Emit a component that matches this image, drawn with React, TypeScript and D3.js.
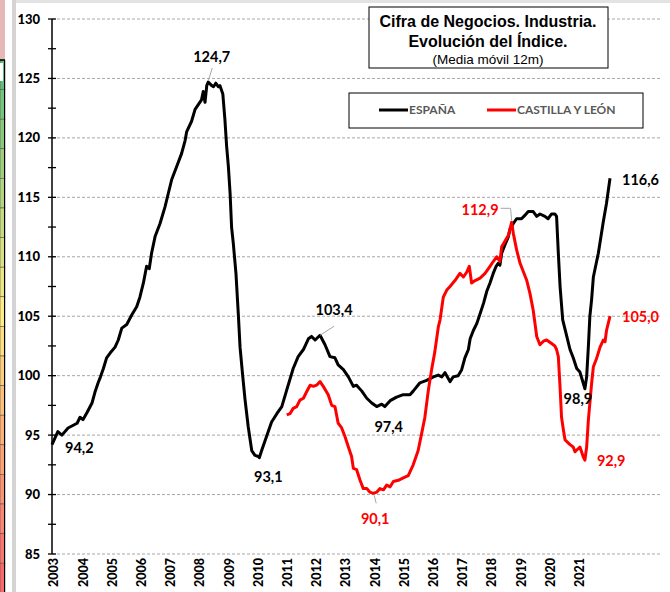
import React, { useEffect, useRef } from 'react';
import * as d3 from 'd3';

// España, media móvil 12m (año decimal, índice)
const espanaT = [
  2003.0, 2003.2, 2003.34, 2003.55, 2003.86, 2003.96, 2004.06, 2004.2, 2004.37, 2004.47, 2004.58, 2004.66,
  2004.76, 2004.87, 2004.99, 2005.16, 2005.27, 2005.39, 2005.56, 2005.73, 2005.9, 2006.01, 2006.13, 2006.24,
  2006.33, 2006.41, 2006.53, 2006.7, 2006.87, 2006.98, 2007.1, 2007.27, 2007.44, 2007.56, 2007.61, 2007.78,
  2007.9, 2008.01, 2008.12, 2008.18, 2008.24, 2008.3, 2008.35, 2008.47, 2008.53, 2008.61, 2008.7, 2008.75,
  2008.85, 2008.92, 2008.98, 2009.04, 2009.1, 2009.15, 2009.21, 2009.3, 2009.38, 2009.44, 2009.53, 2009.61,
  2009.72, 2009.84, 2009.95, 2010.07, 2010.1, 2010.18, 2010.35, 2010.52, 2010.7, 2010.87, 2011.04, 2011.26,
  2011.43, 2011.61, 2011.78, 2011.89, 2012.01, 2012.18, 2012.35, 2012.52, 2012.69, 2012.8, 2012.98, 2013.15,
  2013.32, 2013.43, 2013.61, 2013.78, 2013.95, 2014.12, 2014.29, 2014.4, 2014.58, 2014.8, 2015.03, 2015.26,
  2015.37, 2015.6, 2015.83, 2016.06, 2016.23, 2016.35, 2016.46, 2016.63, 2016.74, 2016.91, 2017.03, 2017.14,
  2017.26, 2017.32, 2017.43, 2017.55, 2017.66, 2017.78, 2017.89, 2018.0, 2018.11, 2018.21, 2018.28, 2018.34,
  2018.4, 2018.51, 2018.63, 2018.68, 2018.8, 2018.91, 2019.08, 2019.2, 2019.31, 2019.48, 2019.6, 2019.71,
  2019.88, 2019.99, 2020.11, 2020.22, 2020.28, 2020.34, 2020.4, 2020.49, 2020.63, 2020.74, 2020.85, 2020.97,
  2021.08, 2021.19, 2021.25, 2021.31, 2021.37, 2021.42, 2021.48, 2021.54, 2021.71, 2021.88, 2021.99, 2022.11
];
const espanaV = [
  94.2, 95.3, 95.0, 95.6, 96.0, 96.5, 96.3, 96.9, 97.7, 98.6, 99.4, 99.9,
  100.6, 101.5, 101.9, 102.4, 103.0, 104.0, 104.3, 105.1, 105.8, 106.6, 107.8, 109.2,
  109.0, 110.3, 111.7, 112.8, 114.2, 115.3, 116.5, 117.6, 118.7, 119.8, 120.5, 121.4,
  122.4, 122.8, 123.2, 123.9, 123.0, 124.4, 124.7, 124.4, 124.3, 124.6, 124.3, 124.4,
  123.7, 121.6, 119.3, 117.6, 115.3, 112.5, 111.1, 108.6, 105.2, 102.4, 100.0, 98.0,
  95.7, 93.7, 93.3, 93.2, 93.1, 93.7, 94.9, 96.1, 96.8, 97.4, 98.8, 100.6,
  101.6, 102.2, 103.1, 103.3, 103.0, 103.4, 102.6, 101.6, 101.5, 100.9, 100.5, 99.9,
  99.1, 99.2, 98.7, 98.1, 97.7, 97.4, 97.6, 97.4, 97.9, 98.2, 98.4, 98.4,
  98.7, 99.4, 99.6, 99.9, 100.05, 99.9, 100.25, 99.5, 99.9, 100.0, 100.5, 101.5,
  102.2, 103.1, 103.8, 104.4, 105.2, 106.1, 107.1, 107.8, 108.6, 109.2, 109.45, 109.3,
  110.3, 111.0, 111.7, 112.3, 112.8, 113.2, 113.2, 113.5, 113.8, 113.8, 113.4, 113.6,
  113.4, 113.2, 113.6, 113.6, 113.4, 110.3, 107.5, 104.7, 103.3, 102.2, 101.5, 100.6,
  100.3, 99.4, 98.9, 99.9, 102.5, 105.0, 106.4, 108.3, 110.3, 112.95, 114.5, 116.6
];

// Castilla y León, media móvil 12m
const cylT = [
  2011.04, 2011.15, 2011.26, 2011.38, 2011.49, 2011.61, 2011.72, 2011.84, 2011.95, 2012.06, 2012.18, 2012.29,
  2012.46, 2012.58, 2012.69, 2012.8, 2012.92, 2013.03, 2013.15, 2013.26, 2013.32, 2013.43, 2013.55, 2013.66,
  2013.78, 2013.89, 2014.0, 2014.12, 2014.23, 2014.35, 2014.46, 2014.58, 2014.69, 2014.86, 2015.03, 2015.2,
  2015.37, 2015.54, 2015.66, 2015.77, 2015.89, 2016.0, 2016.11, 2016.23, 2016.29, 2016.4, 2016.52, 2016.63,
  2016.8, 2016.97, 2017.09, 2017.2, 2017.29, 2017.37, 2017.49, 2017.66, 2017.83, 2018.0, 2018.11, 2018.23,
  2018.34, 2018.4, 2018.51, 2018.63, 2018.74, 2018.8, 2018.91, 2019.03, 2019.26, 2019.37, 2019.48, 2019.6,
  2019.71, 2019.83, 2019.94, 2020.11, 2020.22, 2020.28, 2020.34, 2020.4, 2020.45, 2020.51, 2020.57, 2020.74,
  2020.85, 2020.91, 2021.08, 2021.19, 2021.25, 2021.31, 2021.37, 2021.48, 2021.54, 2021.65, 2021.77, 2021.88,
  2021.94, 2021.99, 2022.11
];
const cylV = [
  96.7, 96.8, 97.25, 97.4, 97.95, 98.1, 98.65, 99.2, 99.1, 99.2, 99.5, 99.1,
  98.4, 97.5, 97.4, 96.0, 95.6, 94.9, 94.0, 93.2, 92.2, 92.1, 91.2, 90.5,
  90.5, 90.2, 90.1, 90.2, 90.5, 90.4, 90.8, 90.65, 91.1, 91.2, 91.4, 91.6,
  92.5, 93.7, 95.15, 96.5, 98.8, 100.5, 102.0, 104.1, 104.7, 106.6, 107.2, 107.5,
  108.0, 108.6, 108.3, 108.7, 109.2, 107.8, 108.0, 108.2, 108.6, 109.2, 109.6, 110.0,
  109.6, 110.85, 111.3, 111.8, 112.9, 111.95, 110.6, 109.45, 108.0, 106.9, 105.5, 103.3,
  102.6, 102.9, 103.0, 102.7, 102.5, 102.2, 101.6, 99.0, 96.5, 95.5, 94.6, 94.2,
  94.0, 93.6, 94.0, 93.2, 92.9, 94.0, 96.3, 99.35, 100.75, 101.45, 102.4, 103.0,
  102.85, 103.8, 105.0
];

const yearLabels = d3.range(2003, 2022);
const yTicks = d3.range(85, 131, 5);
const yMinor = d3.range(87.5, 130, 5);

// etiquetas de valores
const labelText = ['94,2', '124,7', '93,1', '103,4', '97,4', '90,1', '112,9', '116,6', '105,0', '98,9', '92,9'];
const labelSeries = ['es', 'es', 'es', 'es', 'es', 'cyl', 'cyl', 'es', 'cyl', 'es', 'cyl'];
const labelT = [2003.0, 2008.35, 2010.1, 2012.18, 2014.12, 2014.0, 2018.74, 2022.11, 2022.11, 2021.25, 2021.25];
const labelV = [94.2, 124.7, 93.1, 103.4, 97.4, 90.1, 112.9, 116.6, 105.0, 98.9, 92.9];

const App = () => {
  const ref = useRef<SVGSVGElement>(null);

  useEffect(() => {
    const svg = d3.select(ref.current);
    svg.selectAll('*').remove();

    const W = 670;
    const H = 592;
    const x = d3.scaleLinear().domain([2003, 2003 + 610 / 29.2]).range([52, 662]);
    const y = d3.scaleLinear().domain([85, 130]).range([554, 19]);
    const numFont = 'Lato, "Open Sans", sans-serif';

    // marco de hoja de cálculo a la izquierda
    svg.append('rect').attr('width', W).attr('height', H).attr('fill', '#ffffff');
    svg.append('rect').attr('x', 0).attr('y', 0).attr('width', 5).attr('height', 60).attr('fill', '#e6b8b7');
    const cellColor = d3.scaleLinear<string>().domain([0, 8, 17]).range(['#63be7b', '#ffeb84', '#f8696b']);
    d3.range(18).forEach(i => {
      const cy = 60 + i * 29.6;
      svg.append('rect').attr('x', 0).attr('y', cy).attr('width', 5).attr('height', 29.6)
        .attr('fill', cellColor(i)).attr('stroke', '#555').attr('stroke-width', 0.6);
    });
    svg.append('rect').attr('x', 0).attr('y', 63).attr('width', 3).attr('height', 18).attr('fill', '#fff');
    svg.append('line').attr('x1', 0).attr('x2', 5).attr('y1', 60).attr('y2', 60).attr('stroke', '#000').attr('stroke-width', 1.5);
    svg.append('line').attr('x1', 4.5).attr('x2', 4.5).attr('y1', 60).attr('y2', H).attr('stroke', '#000').attr('stroke-width', 1);
    svg.append('rect').attr('x', 12).attr('y', 0).attr('width', W - 12).attr('height', 3).attr('fill', '#e3e3e3');
    svg.append('rect').attr('x', 12).attr('y', 0).attr('width', 4).attr('height', H).attr('fill', '#d4d4d4');

    // rejilla
    svg.append('g').selectAll('line').data(yTicks).join('line')
      .attr('x1', 52).attr('x2', 662)
      .attr('y1', d => y(d)).attr('y2', d => y(d))
      .attr('stroke', '#a6a6a6').attr('stroke-width', 1).attr('stroke-dasharray', '3,2');

    // eje Y
    svg.append('line').attr('x1', 52).attr('x2', 52).attr('y1', y(130)).attr('y2', y(85))
      .attr('stroke', '#000').attr('stroke-width', 1.5);
    svg.append('g').selectAll('line').data([...yTicks, ...yMinor]).join('line')
      .attr('x1', 48).attr('x2', 56)
      .attr('y1', d => y(d)).attr('y2', d => y(d))
      .attr('stroke', '#000').attr('stroke-width', 1.3);
    svg.append('g').selectAll('text').data(yTicks).join('text')
      .attr('x', 40).attr('y', d => y(d)).attr('dy', '0.35em')
      .attr('text-anchor', 'end')
      .style('font-family', numFont).style('font-weight', 900).style('font-size', '13px')
      .text(d => d);

    // eje X (años)
    svg.append('g').selectAll('text').data(yearLabels).join('text')
      .attr('transform', d => `translate(${x(d) + 2},558) rotate(-90)`)
      .attr('dy', '0.35em')
      .attr('text-anchor', 'end')
      .style('font-family', numFont).style('font-weight', 900).style('font-size', '12.5px')
      .text(d => d);

    // líneas
    const line = d3.line<[number, number]>()
      .x(d => x(d[0]))
      .y(d => y(d[1]));
    const espana = espanaT.map((t, i) => [t, espanaV[i]] as [number, number]);
    const cyl = cylT.map((t, i) => [t, cylV[i]] as [number, number]);

    svg.append('path').datum(espana)
      .attr('fill', 'none').attr('stroke', '#000000').attr('stroke-width', 3)
      .attr('stroke-linejoin', 'round').attr('d', line);
    svg.append('path').datum(cyl)
      .attr('fill', 'none').attr('stroke', '#ff0000').attr('stroke-width', 3)
      .attr('stroke-linejoin', 'round').attr('d', line);

    // guías de etiquetas
    const lead = (pts: [number, number][]) =>
      svg.append('path').attr('d', d3.line()(pts)).attr('fill', 'none')
        .attr('stroke', '#a6a6a6').attr('stroke-width', 1);
    lead([[x(2008.35), y(124.7) - 1], [x(2008.35) + 4, y(124.7) - 14]]);
    lead([[x(2012.18), y(103.4)], [x(2012.18) + 14, y(103.4) - 9]]);
    lead([[x(2014.0) + 1, y(90.1) + 2], [x(2014.0) + 3, y(90.1) + 10]]);
    lead([[x(2018.74), y(112.9) - 2], [x(2018.74) - 1, y(112.9) - 14], [x(2018.74) - 11, y(112.9) - 14]]);

    // etiquetas de valores
    const offsets: [number, number, string][] = [
      [13, 8, 'start'], [3.5, -20, 'middle'], [9, 24, 'middle'], [14, -20, 'middle'],
      [12, 25, 'middle'], [2, 31, 'middle'], [-13, -7, 'end'], [12, 7, 'start'],
      [12, 5.5, 'start'], [-7, 15, 'middle'], [12, 6, 'start']
    ];
    labelText.forEach((txt, i) => {
      const [dx, dy, anchor] = offsets[i];
      svg.append('text')
        .attr('x', x(labelT[i]) + dx).attr('y', y(labelV[i]) + dy)
        .attr('text-anchor', anchor)
        .attr('fill', labelSeries[i] === 'cyl' ? '#ff0000' : '#000000')
        .style('font-family', numFont).style('font-weight', 700).style('font-size', '14.5px')
        .text(txt);
    });

    // título
    svg.append('rect').attr('x', 369).attr('y', 7).attr('width', 239).attr('height', 61)
      .attr('fill', '#fff').attr('stroke', '#000').attr('stroke-width', 1);
    const title = svg.append('g').style('font-family', '"Liberation Sans", Arial, sans-serif')
      .attr('text-anchor', 'middle');
    title.append('text').attr('x', 488).attr('y', 27)
      .style('font-weight', 700).style('font-size', '16px').text('Cifra de Negocios. Industria.');
    title.append('text').attr('x', 488).attr('y', 46.5)
      .style('font-weight', 700).style('font-size', '16px').text('Evolución del Índice.');
    title.append('text').attr('x', 488).attr('y', 64)
      .style('font-size', '13.5px').text('(Media móvil 12m)');

    // leyenda
    svg.append('rect').attr('x', 349).attr('y', 93).attr('width', 294).attr('height', 35)
      .attr('fill', '#fff').attr('stroke', '#000').attr('stroke-width', 1);
    const legendItems: [string, string, number][] = [
      ['ESPAÑA', '#000000', 379],
      ['CASTILLA Y LEÓN', '#ff0000', 487]
    ];
    legendItems.forEach(([name, color, lx]) => {
      svg.append('line').attr('x1', lx).attr('x2', lx + 29).attr('y1', 110).attr('y2', 110)
        .attr('stroke', color).attr('stroke-width', 3);
      svg.append('text').attr('x', lx + 30).attr('y', 114)
        .attr('fill', '#595959')
        .style('font-family', numFont).style('font-weight', 700).style('font-size', '12px')
        .text(name);
    });
  }, []);

  return (
    <div style={{ position: 'absolute', left: 0, top: 0 }}>
      <svg ref={ref} width={670} height={592} style={{ display: 'block' }} />
    </div>
  );
};

export default App;
